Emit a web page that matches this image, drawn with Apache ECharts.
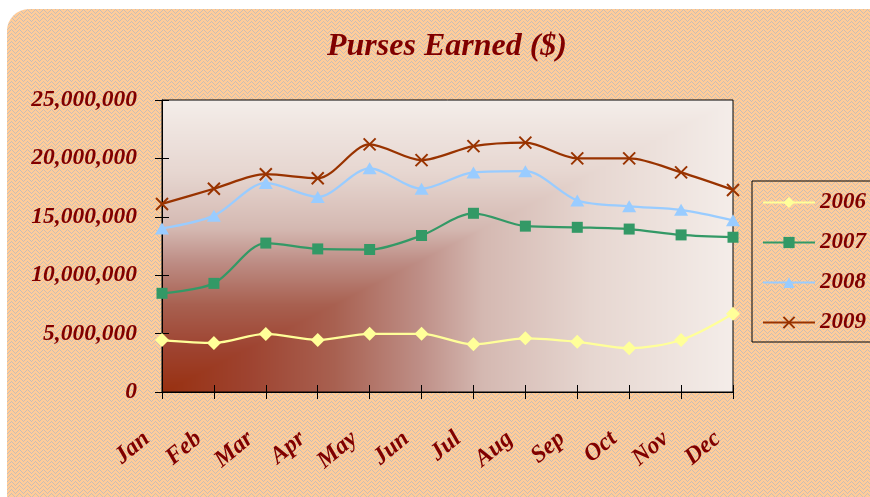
<!DOCTYPE html>
<html><head><meta charset="utf-8">
<script src="https://cdn.jsdelivr.net/npm/echarts@6/dist/echarts.min.js"></script>
<style>
html,body{margin:0;padding:0;background:#fff;width:870px;height:497px;overflow:hidden}
#bg{position:absolute;left:7px;top:9px;width:890px;height:520px;border-radius:22px;}
#chart{position:absolute;left:0;top:0;width:870px;height:497px}
</style></head><body>
<div id="bg"></div><div id="chart"></div>
<script>
const months = ['Jan','Feb','Mar','Apr','May','Jun','Jul','Aug','Sep','Oct','Nov','Dec'];
const years = ['2006','2007','2008','2009'];
const v2006 = [4450000, 4200000, 4970000, 4450000, 4980000, 4980000, 4080000, 4600000, 4300000, 3750000, 4450000, 6700000];
const v2007 = [8450000, 9300000, 12750000, 12250000, 12200000, 13400000, 15300000, 14200000, 14100000, 13950000, 13450000, 13250000];
const v2008 = [14000000, 15100000, 17900000, 16700000, 19150000, 17400000, 18800000, 18900000, 16400000, 15900000, 15600000, 14700000];
const v2009 = [16100000, 17400000, 18650000, 18300000, 21200000, 19850000, 21050000, 21350000, 20000000, 20000000, 18800000, 17300000];
const yTicks = [0, 5000000, 10000000, 15000000, 20000000, 25000000];

const W = 870, H = 497;
const G = {left:162, right:733, top:100, bottom:392};
const FONT = 'Liberation Serif';
const RED = '#800000';

// woven texture
(function(){
  const t = document.createElement('canvas'); t.width = 8; t.height = 8;
  const c = t.getContext('2d');
  const img = c.createImageData(8,8);
  for (let y=0;y<8;y++) for (let x=0;x<8;x++){
    const a = x<4 ? (x+y)%4 : (x-y+16)%4;
    let col = [255,204,153];
    if (a===0) col=[200,190,182];
    else if (a===1 && (x+y)%2===0) col=[226,196,166];
    const i=(y*8+x)*4; img.data[i]=col[0]; img.data[i+1]=col[1]; img.data[i+2]=col[2]; img.data[i+3]=255;
  }
  c.putImageData(img,0,0);
  document.getElementById('bg').style.background = 'url(' + t.toDataURL() + ') repeat';
})();

// plot area corner gradient
const gcv = document.createElement('canvas'); gcv.width = W; gcv.height = H;
(function(){
  const c = gcv.getContext('2d');
  const w = G.right-G.left, h = G.bottom-G.top;
  const img = c.createImageData(w,h);
  const stops = [[0,[152,48,16]],[0.15,[158,67,48]],[0.3,[168,96,80]],[0.45,[190,142,134]],[0.56,[212,184,177]],[0.75,[230,214,208]],[1,[244,237,233]]];
  function col(t){
    for (let k=1;k<stops.length;k++){ if (t<=stops[k][0]){ const a=stops[k-1], b=stops[k]; const f=(t-a[0])/(b[0]-a[0]); return [0,1,2].map(j=>a[1][j]+(b[1][j]-a[1][j])*f);} }
    return stops[stops.length-1][1];
  }
  for (let y=0;y<h;y++) for (let x=0;x<w;x++){
    const u=x/w, v=(h-y)/h; const cc=col(Math.max(u,v));
    const i=(y*w+x)*4; img.data[i]=cc[0]; img.data[i+1]=cc[1]; img.data[i+2]=cc[2]; img.data[i+3]=255;
  }
  c.putImageData(img,G.left,G.top);
})();

const txt = {fontFamily:FONT, fontWeight:'bold', fontStyle:'italic', color:RED};
const chart = echarts.init(document.getElementById('chart'), null, {renderer:'canvas'});
chart.setOption({
  animation:false,
  backgroundColor:'transparent',
  title:{text:'Purses Earned ($)', left:322, top:26, textStyle:Object.assign({fontSize:32}, txt)},
  legend:{
    orient:'vertical', left:752, top:181, padding:[10,30,8,10],
    itemWidth:52, itemHeight:14, itemGap:17,
    borderColor:'#000', borderWidth:1, borderRadius:0,
    textStyle:Object.assign({fontSize:23, lineHeight:20}, txt),
    data:years
  },
  grid:{left:G.left, right:W-G.right, top:G.top, bottom:H-G.bottom, show:true,
        backgroundColor:{image:gcv, repeat:'no-repeat'}, borderColor:'#000', borderWidth:1},
  xAxis:[
    {type:'category', data:months, boundaryGap:false,
     axisLine:{lineStyle:{color:'#000', width:1}},
     axisTick:{length:7, lineStyle:{color:'#000'}},
     axisLabel:Object.assign({fontSize:24, rotate:40, margin:31, padding:[0,20,0,0], interval:0}, txt),
     splitLine:{show:false}},
    {type:'category', data:months, boundaryGap:false, position:'bottom',
     axisLine:{show:false}, axisTick:{inside:true, length:7, lineStyle:{color:'#000'}},
     axisLabel:{show:false}, splitLine:{show:false}}
  ],
  yAxis:[
    {type:'value', min:0, max:25000000, interval:5000000,
     axisLine:{show:true, lineStyle:{color:'#000', width:1}},
     axisTick:{show:true, length:7, lineStyle:{color:'#000'}},
     axisLabel:Object.assign({fontSize:23.5, margin:25, formatter:v=>v.toLocaleString('en-US')}, txt),
     splitLine:{show:false}},
    {type:'value', min:0, max:25000000, interval:5000000, position:'left',
     axisLine:{show:false}, axisTick:{show:true, inside:true, length:7, lineStyle:{color:'#000'}},
     axisLabel:{show:false}, splitLine:{show:false}}
  ],
  series:[
    {name:'2006', type:'line', data:v2006, smooth:0.3, symbol:'diamond', symbolSize:14,
     lineStyle:{color:'#FFFF99', width:2.25}, itemStyle:{color:'#FFFF99'}},
    {name:'2007', type:'line', data:v2007, smooth:0.3, symbol:'rect', symbolSize:11,
     lineStyle:{color:'#339966', width:2.25}, itemStyle:{color:'#339966'}},
    {name:'2008', type:'line', data:v2008, smooth:0.3, symbol:'triangle', symbolSize:[14,12],
     lineStyle:{color:'#99CCFF', width:2.25}, itemStyle:{color:'#99CCFF'}},
    {name:'2009', type:'line', data:v2009, smooth:0.3, symbol:'path://M0,0L10,10M10,0L0,10', symbolSize:12,
     lineStyle:{color:'#993300', width:2.25}, itemStyle:{color:'#993300', borderColor:'#993300', borderWidth:2}}
  ]
});
</script>
</body></html>
